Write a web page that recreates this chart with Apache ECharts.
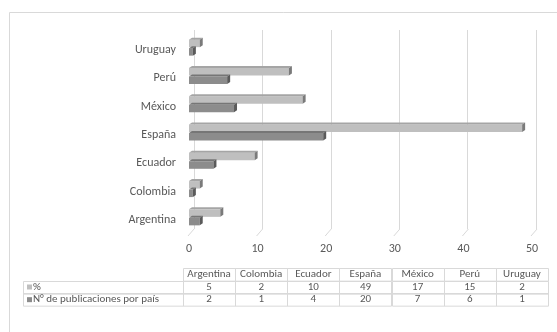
<!DOCTYPE html>
<html>
<head>
<meta charset="utf-8">
<script src="https://cdn.jsdelivr.net/npm/echarts@6/dist/echarts.min.js"></script>
<style>
html, body { margin: 0; padding: 0; background: #fff; }
#app { width: 557px; height: 332px; }
</style>
</head>
<body>
<div id="app"></div>
<script>
var categories = ['Argentina', 'Colombia', 'Ecuador', 'España', 'México', 'Perú', 'Uruguay'];
var seriesNames = ['%', 'N° de publicaciones por país'];
var pctValues = [5, 2, 10, 49, 17, 15, 2];
var countValues = [2, 1, 4, 20, 7, 6, 1];
var xTicks = [0, 10, 20, 30, 40, 50];

var FONT = 'Carlito, "Noto Sans", sans-serif';
var TEXT = '#595959';
var LINE = '#d9d9d9';

// front, top and side colours for the two fake-3D bar series
var barColors = [
    { front: '#bfbfbf', top: '#a5a5a5', side: '#7a7a7a' },
    { front: '#8c8c8c', top: '#767676', side: '#5a5a5a' }
];
var barOffset = [-10.5, -2];
var BAR_H = 7.5, DX = 3, DY = 2;

function makeBarRender(s) {
    return function (params, api) {
        var cat = api.value(0);
        var p0 = api.coord([0, cat]);
        var p1 = api.coord([api.value(1), cat]);
        var x0 = p0[0], x1 = p1[0];
        var y0 = p0[1] + barOffset[s];
        var c = barColors[s];
        return {
            type: 'group',
            children: [{
                type: 'rect',
                shape: { x: x0, y: y0, width: Math.max(x1 - x0 - DX, 1), height: BAR_H },
                style: { fill: c.front }
            }, {
                type: 'polygon',
                shape: { points: [[x0, y0], [x0 + DX, y0 - DY], [x1, y0 - DY], [x1 - DX, y0]] },
                style: { fill: c.top }
            }, {
                type: 'polygon',
                shape: { points: [[x1 - DX, y0], [x1, y0 - DY], [x1, y0 + BAR_H - DY], [x1 - DX, y0 + BAR_H]] },
                style: { fill: c.side }
            }]
        };
    };
}

// floor lines from the back wall to the front edge
function renderFloor(params, api) {
    var p = api.coord([api.value(0), 0]);
    var bottom = params.coordSys.y + params.coordSys.height;
    return {
        type: 'line',
        shape: { x1: p[0] + 5, y1: bottom - 5, x2: p[0] - 1, y2: bottom + 2 },
        style: { stroke: LINE, lineWidth: 1 }
    };
}

// data table below the plot
var tableRows = [categories, pctValues, countValues];
var tableData = [];
tableRows.forEach(function (row, r) {
    row.forEach(function (v, c) {
        tableData.push([c, r, String(v)]);
    });
});
tableData.push([-1, 1, seriesNames[0]]);
tableData.push([-1, 2, seriesNames[1]]);
var keyColors = ['#bfbfbf', '#8c8c8c'];
var ROWHEAD_W = 160;

function renderCell(params, api) {
    var col = api.value(0), row = api.value(1);
    var text = tableData[params.dataIndex][2];
    var a = api.coord([Math.max(col, 0), row]);
    var b = api.coord([Math.max(col, 0) + 1, row + 1]);
    var x = a[0], y = a[1], w = b[0] - a[0], h = b[1] - a[1];
    if (col < 0) {
        x = params.coordSys.x - ROWHEAD_W;
        w = ROWHEAD_W;
        return {
            type: 'group',
            children: [{
                type: 'rect',
                shape: { x: x + 0.5, y: Math.round(y) + 0.5, width: w, height: h },
                style: { fill: 'none', stroke: LINE }
            }, {
                type: 'rect',
                shape: { x: x + 4, y: y + h / 2 - 2.5, width: 5, height: 5 },
                style: { fill: keyColors[row - 1] }
            }, {
                type: 'text',
                x: x + 10, y: y + h / 2,
                style: { text: text, fill: TEXT, font: '11px ' + FONT, align: 'left', verticalAlign: 'middle' }
            }]
        };
    }
    return {
        type: 'group',
        children: [{
            type: 'rect',
            shape: { x: Math.round(x) + 0.5, y: Math.round(y) + 0.5, width: Math.round(w), height: h },
            style: { fill: 'none', stroke: LINE }
        }, {
            type: 'text',
            x: x + w / 2, y: y + h / 2,
            style: { text: text, fill: TEXT, font: '11px ' + FONT, align: 'center', verticalAlign: 'middle' }
        }]
    };
}

var option = {
    animation: false,
    backgroundColor: '#fff',
    textStyle: { fontFamily: FONT },
    graphic: [{
        type: 'rect',
        shape: { x: 9.5, y: 12.5, width: 560, height: 340 },
        style: { fill: 'none', stroke: LINE },
        silent: true,
        z: -10
    }],
    grid: [
        { left: 189, right: 25, top: 36, bottom: 98 },
        { left: 194, right: 21, top: 30, bottom: 103 },
        { left: 183, right: 9, top: 268, bottom: 26 }
    ],
    xAxis: [{
        gridIndex: 0, type: 'value', min: 0, max: 50, interval: 10,
        axisLine: { show: false }, axisTick: { show: false }, splitLine: { show: false },
        axisLabel: { color: TEXT, fontSize: 12, fontFamily: FONT, margin: 9 }
    }, {
        gridIndex: 1, type: 'value', min: 0, max: 50, interval: 10,
        axisLine: { show: false }, axisTick: { show: false }, axisLabel: { show: false },
        splitLine: { show: true, lineStyle: { color: LINE, width: 1 } }
    }, {
        gridIndex: 2, type: 'value', min: 0, max: 7, show: false
    }],
    yAxis: [{
        gridIndex: 0, type: 'category', data: categories,
        axisLine: { show: false }, axisTick: { show: false },
        axisLabel: { color: TEXT, fontSize: 12, fontFamily: FONT, margin: 13 }
    }, {
        gridIndex: 1, type: 'value', show: false
    }, {
        gridIndex: 2, type: 'value', min: 0, max: 3, inverse: true, show: false
    }],
    series: [{
        name: seriesNames[0],
        type: 'custom',
        xAxisIndex: 0, yAxisIndex: 0,
        renderItem: makeBarRender(0),
        encode: { x: 1, y: 0 },
        data: pctValues.map(function (v, i) { return [i, v]; }),
        z: 3
    }, {
        name: seriesNames[1],
        type: 'custom',
        xAxisIndex: 0, yAxisIndex: 0,
        renderItem: makeBarRender(1),
        encode: { x: 1, y: 0 },
        data: countValues.map(function (v, i) { return [i, v]; }),
        z: 4
    }, {
        type: 'custom',
        xAxisIndex: 0, yAxisIndex: 0,
        renderItem: renderFloor,
        encode: { x: 0 },
        data: xTicks.map(function (t) { return [t]; }),
        silent: true,
        z: 1
    }, {
        type: 'custom',
        xAxisIndex: 2, yAxisIndex: 2,
        renderItem: renderCell,
        encode: { x: 0, y: 1 },
        data: tableData.map(function (d) { return [d[0], d[1]]; }),
        silent: true
    }]
};

var myChart = echarts.init(document.getElementById('app'));
myChart.setOption(option);
</script>
</body>
</html>
